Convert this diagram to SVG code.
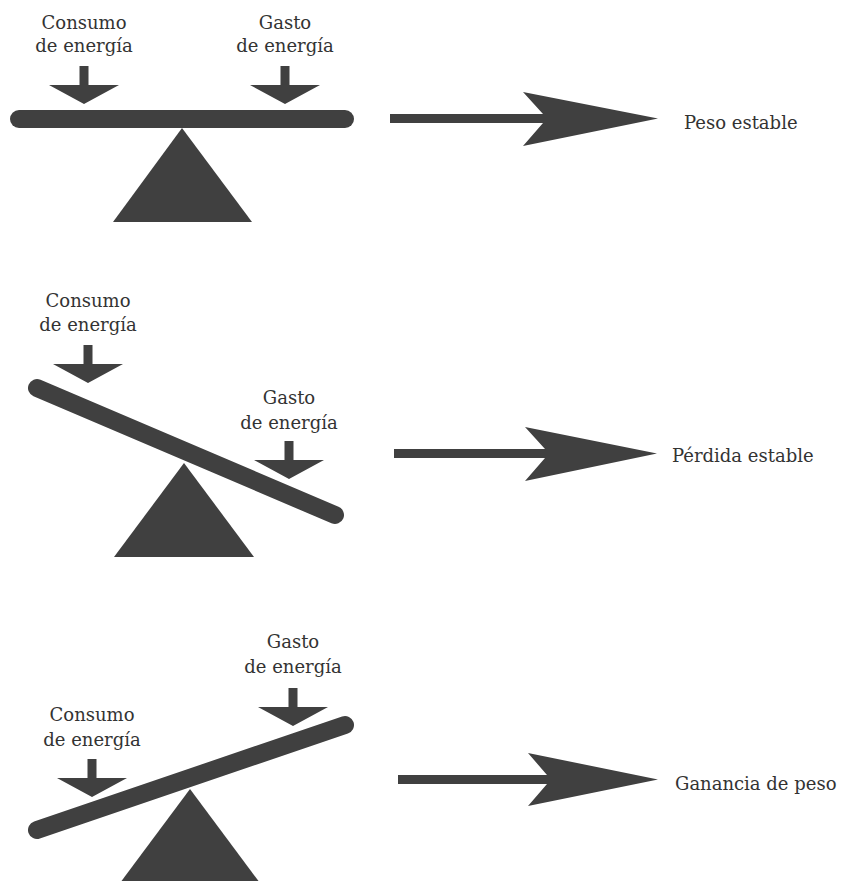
<svg xmlns="http://www.w3.org/2000/svg" width="847" height="881" viewBox="0 0 847 881">
  <defs>
    <style>
      .lbl { font-family: "DejaVu Serif", "Liberation Serif", serif; font-size: 18px; fill: #333333; }
      .mid { text-anchor: middle; }
      .shape { fill: #404040; }
      .beam { stroke: #404040; stroke-width: 18; stroke-linecap: round; fill: none; }
    </style>
    <!-- small downward force arrow, tip at origin -->
    <path id="force" d="M-4.5,-38 H4.5 V-19 H35 L0,0 L-35,-19 H-4.5 Z"/>
  </defs>

  <rect width="847" height="881" fill="#ffffff"/>

  <!-- Balance: stable weight -->
  <g id="balance-stable">
    <text class="lbl mid" x="84" y="28.5">Consumo</text>
    <text class="lbl mid" x="84" y="52">de energía</text>
    <text class="lbl mid" x="285" y="28.5">Gasto</text>
    <text class="lbl mid" x="285" y="52">de energía</text>
    <use href="#force" class="shape" x="84" y="104"/>
    <use href="#force" class="shape" x="285" y="104"/>
    <line class="beam" x1="19" y1="119" x2="345" y2="119"/>
    <polygon class="shape" points="182,128 252,222 113,222"/>
  </g>

  <!-- Balance: intake heavier on the left -->
  <g id="balance-loss">
    <text class="lbl mid" x="88" y="307">Consumo</text>
    <text class="lbl mid" x="88" y="331">de energía</text>
    <text class="lbl mid" x="289" y="404">Gasto</text>
    <text class="lbl mid" x="289" y="429">de energía</text>
    <use href="#force" class="shape" x="88" y="383"/>
    <use href="#force" class="shape" x="289" y="479"/>
    <line class="beam" x1="37" y1="388" x2="335" y2="515"/>
    <polygon class="shape" points="184,463 254,557 114,557"/>
  </g>

  <!-- Balance: expenditure higher on the right -->
  <g id="balance-gain">
    <text class="lbl mid" x="293" y="648">Gasto</text>
    <text class="lbl mid" x="293" y="673">de energía</text>
    <text class="lbl mid" x="92" y="721">Consumo</text>
    <text class="lbl mid" x="92" y="746">de energía</text>
    <use href="#force" class="shape" x="293" y="726"/>
    <use href="#force" class="shape" x="92" y="797"/>
    <line class="beam" x1="37" y1="830" x2="345" y2="725"/>
    <polygon class="shape" points="190,789 260,883 120,883"/>
  </g>

  <!-- Outcome labels -->
  <g id="result-stable">
    <text class="lbl" x="684" y="129">Peso estable</text>
  </g>
  <g id="result-loss">
    <text class="lbl" x="672" y="462">Pérdida estable</text>
  </g>
  <g id="result-gain">
    <text class="lbl" x="675" y="790">Ganancia de peso</text>
  </g>

  <!-- Connectors from each balance to its outcome -->
  <g id="connectors" class="shape">
    <path d="M390,114 H543 L523,92 L658,118.5 L523,146 L543,123 H390 Z"/>
    <path d="M394,449 H545 L525,427 L657,453.5 L525,481 L545,458 H394 Z"/>
    <path d="M398,775 H547 L528,753 L658,779.5 L528,806 L547,784 H398 Z"/>
  </g>
</svg>
